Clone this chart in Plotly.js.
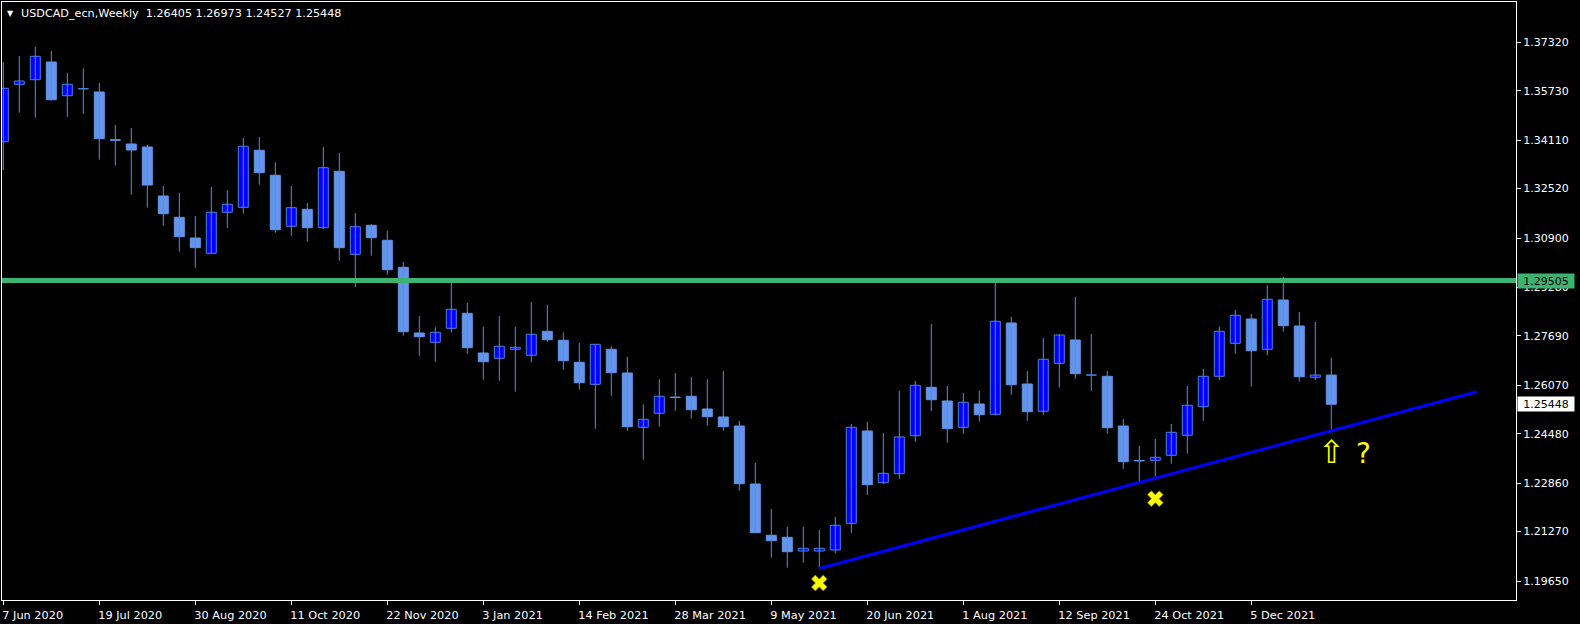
<!DOCTYPE html>
<html>
<head>
<meta charset="utf-8">
<script src="https://cdn.plot.ly/plotly-3.0.1.min.js"></script>
<style>
  html, body { margin: 0; padding: 0; background: #000; }
  #chart { width: 1580px; height: 624px; }
</style>
</head>
<body>
<div id="chart"></div>
<script>
// ---- data ----
const symbolTitle = "USDCAD_ecn,Weekly";
const weeks = ['2020-06-07','2020-06-14','2020-06-21','2020-06-28','2020-07-05','2020-07-12','2020-07-19','2020-07-26',
  '2020-08-02','2020-08-09','2020-08-16','2020-08-23','2020-08-30','2020-09-06','2020-09-13','2020-09-20','2020-09-27',
  '2020-10-04','2020-10-11','2020-10-18','2020-10-25','2020-11-01','2020-11-08','2020-11-15','2020-11-22','2020-11-29',
  '2020-12-06','2020-12-13','2020-12-20','2020-12-27','2021-01-03','2021-01-10','2021-01-17','2021-01-24','2021-01-31',
  '2021-02-07','2021-02-14','2021-02-21','2021-02-28','2021-03-07','2021-03-14','2021-03-21','2021-03-28','2021-04-04',
  '2021-04-11','2021-04-18','2021-04-25','2021-05-02','2021-05-09','2021-05-16','2021-05-23','2021-05-30','2021-06-06',
  '2021-06-13','2021-06-20','2021-06-27','2021-07-04','2021-07-11','2021-07-18','2021-07-25','2021-08-01','2021-08-08',
  '2021-08-15','2021-08-22','2021-08-29','2021-09-05','2021-09-12','2021-09-19','2021-09-26','2021-10-03','2021-10-10',
  '2021-10-17','2021-10-24','2021-10-31','2021-11-07','2021-11-14','2021-11-21','2021-11-28','2021-12-05','2021-12-12',
  '2021-12-19','2021-12-26','2022-01-02','2022-01-09'];

const open = [1.34060,1.35942,1.36093,1.36674,1.35568,1.35790,1.35690,1.34125,1.33984,1.33886,
  1.32279,1.31580,1.30901,1.30399,1.31744,1.31908,1.33778,1.32958,1.31285,1.31842,
  1.31239,1.33089,1.30366,1.31318,1.30826,1.29940,1.27785,1.27480,1.27939,1.28431,
  1.27129,1.26955,1.27250,1.27054,1.27841,1.27546,1.26824,1.26102,1.27250,1.26473,
  1.24692,1.25151,1.25680,1.25709,1.25292,1.25030,1.24735,1.22832,1.21150,1.21084,
  1.20635,1.20635,1.20667,1.21543,1.24571,1.22875,1.23170,1.24416,1.26004,1.25555,
  1.24692,1.25456,1.25118,1.28113,1.26112,1.25217,1.26791,1.27555,1.26400,1.26365,
  1.24735,1.23604,1.23610,1.23774,1.24430,1.25368,1.26365,1.27447,1.28244,1.27250,
  1.28867,1.28015,1.26332,1.26405];
const high = [1.36674,1.36871,1.37166,1.37035,1.36313,1.36467,1.35985,1.34607,1.34509,1.33951,
  1.32607,1.32377,1.31623,1.32574,1.32466,1.34181,1.34214,1.33384,1.32607,1.32049,
  1.33886,1.33689,1.31721,1.31350,1.31131,1.30114,1.28343,1.27972,1.29458,1.28769,
  1.27982,1.28343,1.27982,1.28802,1.28703,1.27808,1.27457,1.27420,1.27349,1.26998,
  1.25446,1.26266,1.26473,1.26332,1.26266,1.26539,1.24899,1.23521,1.22012,1.21422,
  1.21422,1.21323,1.21750,1.24800,1.24866,1.24505,1.25883,1.26211,1.28080,1.26047,
  1.25817,1.25883,1.29480,1.28320,1.26539,1.27621,1.27730,1.28966,1.27752,1.26539,
  1.24964,1.24079,1.24308,1.24800,1.26047,1.26604,1.27992,1.28539,1.28408,1.29359,
  1.29622,1.28474,1.28146,1.26973];
const low = [1.33131,1.35011,1.34847,1.35405,1.34880,1.34978,1.33469,1.33272,1.32321,1.31895,
  1.31304,1.30452,1.29927,1.30393,1.31229,1.31698,1.32649,1.31075,1.30976,1.30780,
  1.31196,1.30156,1.29284,1.30320,1.29697,1.27696,1.27040,1.26844,1.27808,1.27106,
  1.26253,1.26220,1.25860,1.26824,1.27500,1.26581,1.25925,1.24646,1.25728,1.24580,
  1.23629,1.24712,1.25236,1.24974,1.24744,1.24580,1.22612,1.21225,1.20415,1.20087,
  1.20251,1.20060,1.20559,1.21235,1.22471,1.22842,1.23006,1.24220,1.25227,1.24187,
  1.24482,1.24876,1.25073,1.25761,1.24908,1.25105,1.25991,1.26286,1.25892,1.24482,
  1.23334,1.22908,1.23072,1.23498,1.23826,1.24908,1.26243,1.27106,1.26024,1.27054,
  1.27828,1.26188,1.26243,1.24527];
const close = [1.35811,1.36051,1.36861,1.35437,1.35942,1.35805,1.34158,1.34105,1.33787,1.32639,
  1.31698,1.30944,1.30583,1.31744,1.32006,1.33909,1.33043,1.31173,1.31895,1.31239,
  1.33207,1.30583,1.31272,1.30911,1.29861,1.27828,1.27664,1.27808,1.28562,1.27303,
  1.26844,1.27349,1.27316,1.27742,1.27565,1.26876,1.26155,1.27414,1.26483,1.24712,
  1.24954,1.25709,1.25672,1.25269,1.25040,1.24712,1.22842,1.21235,1.20972,1.20612,
  1.20723,1.20723,1.21478,1.24692,1.22809,1.23183,1.24374,1.26070,1.25597,1.24646,
  1.25512,1.25105,1.28169,1.26089,1.25204,1.26922,1.27719,1.26450,1.26412,1.24679,
  1.23564,1.23590,1.23708,1.24528,1.25414,1.26365,1.27841,1.28366,1.27204,1.28890,
  1.28024,1.26352,1.26405,1.25448];

const xTickDates = ['2020-06-07','2020-07-19','2020-08-30','2020-10-11','2020-11-22','2021-01-03','2021-02-14',
  '2021-03-28','2021-05-09','2021-06-20','2021-08-01','2021-09-12','2021-10-24','2021-12-05'];
const xTickLabels = ['7 Jun 2020','19 Jul 2020','30 Aug 2020','11 Oct 2020','22 Nov 2020','3 Jan 2021','14 Feb 2021',
  '28 Mar 2021','9 May 2021','20 Jun 2021','1 Aug 2021','12 Sep 2021','24 Oct 2021','5 Dec 2021'];
const yTickVals = [1.37320,1.35730,1.34110,1.32520,1.30900,1.29280,1.27690,1.26070,1.24480,1.22860,1.21270,1.19650];

const resistanceLevel = 1.29505;
const lastPrice = 1.25448;
const trendDates = ['2021-05-30', '2022-03-13 15:00'];
const trendPrices = [1.20060, 1.25860];
const crossDates = ['2021-05-30', '2021-10-24'];
const crossPrices = [1.19585, 1.22350];
const arrowDate = '2022-01-09', arrowPrice = 1.23882;
const questionDate = '2022-01-23', questionPrice = 1.23849;

// ---- build traces ----
const FONT = 'DejaVu Sans, sans-serif';
const WEEK_MS = 7 * 24 * 3600 * 1000;
const bodyWidth = WEEK_MS * 10 / 16;

const wx = [], wy = [];
weeks.forEach((d, i) => { wx.push(d, d, null); wy.push(low[i], high[i], null); });

function bodies(isBull) {
  const x = [], base = [], h = [];
  weeks.forEach((d, i) => {
    const bull = close[i] > open[i];
    if (bull === isBull) {
      x.push(d);
      base.push(Math.min(open[i], close[i]));
      h.push(Math.abs(close[i] - open[i]));
    }
  });
  return {x, base, h};
}
const bull = bodies(true), bear = bodies(false);

const traces = [
  { type: 'scatter', mode: 'lines', x: wx, y: wy, line: {color: '#5b8ee0', width: 1},
    hoverinfo: 'skip', showlegend: false },
  { type: 'bar', x: bull.x, y: bull.h, base: bull.base, width: bull.x.map(() => bodyWidth),
    marker: {color: '#0000ff', line: {color: '#4a82d8', width: 1}}, showlegend: false, hoverinfo: 'skip' },
  { type: 'bar', x: bear.x, y: bear.h, base: bear.base, width: bear.x.map(() => bodyWidth),
    marker: {color: '#6495ed', line: {color: '#6495ed', width: 1}}, showlegend: false, hoverinfo: 'skip' },
  { type: 'scatter', mode: 'lines', x: trendDates, y: trendPrices, line: {color: '#0000ff', width: 3},
    hoverinfo: 'skip', showlegend: false },
  { type: 'scatter', mode: 'markers', x: crossDates, y: crossPrices,
    marker: {symbol: 'x', size: 14, color: '#ffff00', line: {color: '#7a6a00', width: 1}},
    hoverinfo: 'skip', showlegend: false }
];

const layout = {
  width: 1580, height: 624,
  paper_bgcolor: '#000000', plot_bgcolor: '#000000',
  margin: {l: 2, r: 64, t: 2, b: 24, pad: 0},
  showlegend: false,
  barmode: 'overlay',
  font: {family: FONT, size: 11, color: '#ffffff'},
  xaxis: {
    type: 'date',
    range: ['2020-06-06 10:21', '2022-03-30 19:26'],
    showgrid: false, zeroline: false,
    showline: true, mirror: true, linecolor: '#ffffff', linewidth: 1,
    ticks: 'outside', ticklen: 4, tickcolor: '#ffffff', tickwidth: 1,
    tickmode: 'array', tickvals: xTickDates, ticktext: xTickLabels,
    ticklabelposition: 'outside right',
    ticklabelstandoff: 4, ticklabelshift: -2,
    tickfont: {family: FONT, size: 11.3, color: '#ffffff'},
    fixedrange: true
  },
  yaxis: {
    side: 'right',
    range: [1.190274, 1.386418],
    showgrid: false, zeroline: false,
    showline: true, mirror: true, linecolor: '#ffffff', linewidth: 1,
    ticks: 'outside', ticklen: 4, tickcolor: '#ffffff', tickwidth: 1,
    tickmode: 'array', tickvals: yTickVals, ticktext: yTickVals.map(v => v.toFixed(5)),
    tickfont: {family: FONT, size: 11, color: '#ffffff'},
    fixedrange: true
  },
  shapes: [
    { type: 'line', xref: 'paper', x0: 0, x1: 1, yref: 'y', y0: resistanceLevel, y1: resistanceLevel,
      line: {color: '#3cb371', width: 5}, layer: 'above' }
  ],
  annotations: [
    { xref: 'paper', yref: 'paper', x: 0, y: 1, xanchor: 'left', yanchor: 'top', xshift: 3, yshift: -5,
      text: '▼', showarrow: false, font: {family: FONT, size: 8, color: '#ffffff'} },
    { xref: 'paper', yref: 'paper', x: 0, y: 1, xanchor: 'left', yanchor: 'top', xshift: 17, yshift: -3,
      text: symbolTitle + '  ' + [open[83], high[83], low[83], close[83]].map(v => v.toFixed(5)).join(' '),
      showarrow: false, font: {family: FONT, size: 11.2, color: '#ffffff'} },
    { xref: 'paper', yref: 'y', x: 1, y: resistanceLevel, xanchor: 'left', yanchor: 'middle', xshift: 1,
      text: resistanceLevel.toFixed(5), showarrow: false, bgcolor: '#3cb371', width: 54, height: 12, borderpad: 1,
      font: {family: FONT, size: 11, color: '#000000'} },
    { xref: 'paper', yref: 'y', x: 1, y: lastPrice, xanchor: 'left', yanchor: 'middle', xshift: 1,
      text: lastPrice.toFixed(5), showarrow: false, bgcolor: '#ffffff', width: 54, height: 12, borderpad: 1,
      font: {family: FONT, size: 11, color: '#000000'} },
    { xref: 'x', yref: 'y', x: arrowDate, y: arrowPrice, text: '⇧', showarrow: false,
      font: {family: FONT, size: 32, color: '#ffff00'} },
    { xref: 'x', yref: 'y', x: questionDate, y: questionPrice, text: '?', showarrow: false,
      font: {family: FONT, size: 28, color: '#ffff00'} }
  ]
};

Plotly.newPlot('chart', traces, layout, {displayModeBar: false, staticPlot: true});
</script>
</body>
</html>
